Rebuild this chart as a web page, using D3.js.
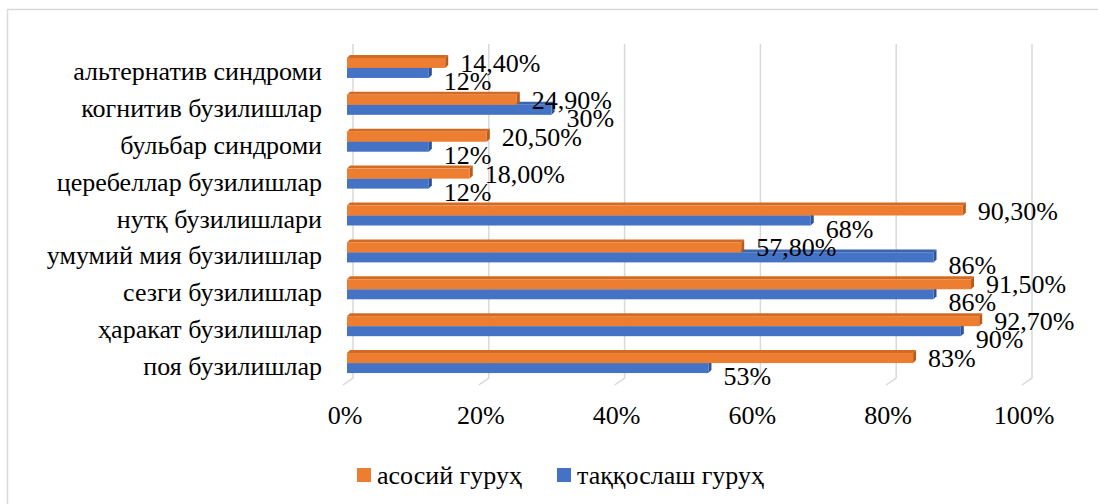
<!DOCTYPE html>
<html>
<head>
<meta charset="utf-8">
<script src="https://cdn.jsdelivr.net/npm/d3@7"></script>
<style>
  body { margin: 0; background: #fff; }
</style>
</head>
<body>
<div class="chart"></div>
<script>
// categories, top to bottom
var categories = [
    'альтернатив синдроми',
    'когнитив бузилишлар',
    'бульбар синдроми',
    'церебеллар бузилишлар',
    'нутқ бузилишлари',
    'умумий мия бузилишлар',
    'сезги бузилишлар',
    'ҳаракат бузилишлар',
    'поя бузилишлар'
];
var mainValues = [14.4, 24.9, 20.5, 18.0, 90.3, 57.8, 91.5, 92.7, 83];
var mainLabels = ['14,40%', '24,90%', '20,50%', '18,00%', '90,30%', '57,80%', '91,50%', '92,70%', '83%'];
var compValues = [12, 30, 12, 12, 68, 86, 86, 90, 53];
var compLabels = ['12%', '30%', '12%', '12%', '68%', '86%', '86%', '90%', '53%'];
var ticks = [0, 20, 40, 60, 80, 100];
var seriesNames = ['асосий гуруҳ', 'таққослаш гуруҳ'];

var W = 1098, H = 504;
var depth = 3;   // 3d offset of the bars
var barH = 10;
var FONT = "'Liberation Serif'";

var svg = d3.select('.chart')
    .append('svg')
    .attr('width', W)
    .attr('height', H);

// chart border
svg.append('rect')
    .attr('x', 7.5).attr('y', 9.5)
    .attr('width', 1200).attr('height', 600)
    .attr('fill', 'none')
    .attr('stroke', '#d9d9d9')
    .attr('stroke-width', 1.5);

var x = d3.scaleLinear().domain([0, 100]).range([347, 1029]);
var xBack = d3.scaleLinear().domain([0, 100]).range([353, 1032]);
var y = d3.scaleBand().domain(categories).range([49.5, 381.5]);

// back wall gridlines + floor
var grid = svg.append('g');
ticks.forEach(function (t) {
    var gx = xBack(t);
    grid.append('path')
        .attr('d', 'M' + gx + ',44 L' + gx + ',378 L' + (gx - 10) + ',385')
        .attr('fill', 'none')
        .attr('stroke', '#d9d9d9')
        .attr('stroke-width', 1.5);
});

// tick labels
svg.append('g').selectAll('text')
    .data(ticks)
    .enter()
    .append('text')
    .attr('x', d => xBack(d) - 8)
    .attr('y', 415)
    .attr('dy', '0.35em')
    .attr('text-anchor', 'middle')
    .style('font-family', FONT)
    .style('font-size', '26px')
    .text(d => d + '%');

// category labels
svg.append('g').selectAll('text')
    .data(categories)
    .enter()
    .append('text')
    .attr('x', 322)
    .attr('y', d => y(d) + y.bandwidth() / 2 + 3)
    .attr('dy', '0.35em')
    .attr('text-anchor', 'end')
    .style('font-family', FONT)
    .style('font-size', '26px')
    .text(d => d);

// one 3d bar: front, top, side
function bar3d(g, x1, top, colors) {
    var x0 = x(0);
    g.append('path')
        .attr('d', `M${x0},${top} L${x0 + depth},${top - depth} L${x1 + depth},${top - depth} L${x1},${top} Z`)
        .attr('fill', colors[1]);
    g.append('path')
        .attr('d', `M${x1},${top} L${x1 + depth},${top - depth} L${x1 + depth},${top + barH - depth} L${x1},${top + barH} Z`)
        .attr('fill', colors[2]);
    g.append('rect')
        .attr('x', x0).attr('y', top)
        .attr('width', x1 - x0).attr('height', barH)
        .attr('fill', colors[0]);
}

var orange = ['#ed7d31', '#d46a22', '#b75c1e'];
var blue = ['#4472c4', '#3b64ad', '#2f5393'];

var bars = svg.append('g');
categories.forEach(function (c, i) {
    var mid = y(c) + y.bandwidth() / 2;
    var g = bars.append('g');
    bar3d(g, x(compValues[i]), mid, blue);
    bar3d(g, x(mainValues[i]), mid - barH, orange);
});

// data labels
var labels = svg.append('g');
categories.forEach(function (c, i) {
    var mid = y(c) + y.bandwidth() / 2;
    labels.append('text')
        .attr('x', x(mainValues[i]) + 15)
        .attr('y', mid - 5)
        .attr('dy', '0.35em')
        .style('font-family', FONT)
        .style('font-size', '26px')
        .text(mainLabels[i]);
    labels.append('text')
        .attr('x', x(compValues[i]) + 15)
        .attr('y', mid + 13)
        .attr('dy', '0.35em')
        .style('font-family', FONT)
        .style('font-size', '26px')
        .text(compLabels[i]);
});

// legend
var legend = svg.append('g');
var legendX = [357, 557];
seriesNames.forEach(function (s, i) {
    legend.append('rect')
        .attr('x', legendX[i]).attr('y', 468)
        .attr('width', 14).attr('height', 14)
        .attr('fill', i === 0 ? orange[0] : blue[0]);
    legend.append('text')
        .attr('x', legendX[i] + 20)
        .attr('y', 475)
        .attr('dy', '0.35em')
        .style('font-family', FONT)
        .style('font-size', '26px')
        .text(s);
});
</script>
</body>
</html>
